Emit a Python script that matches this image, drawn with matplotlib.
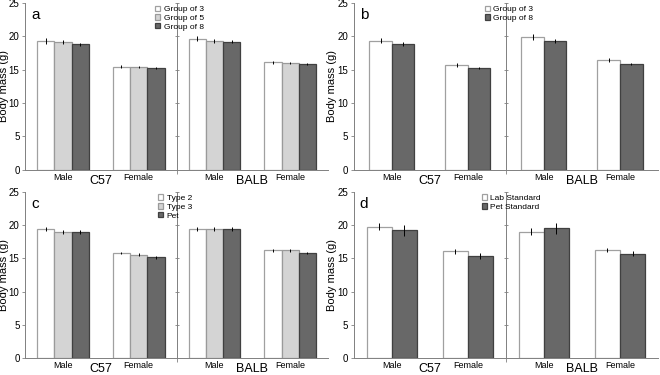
"""
Body mass of C57 and BALB mice by sex, four panels (a-d).
Saves out.png
"""

import matplotlib.pyplot as plt
import numpy as np

plt.rcParams["font.family"] = ["Liberation Sans", "DejaVu Sans"]

categories = ["Male", "Female", "Male", "Female"]
strains = ["C57", "BALB"]
yticks = [0, 5, 10, 15, 20, 25]

# panel a: group size
a_labels = ["Group of 3", "Group of 5", "Group of 8"]
a_means = [
    [19.25, 15.45, 19.65, 16.1],
    [19.1, 15.45, 19.3, 16.05],
    [18.8, 15.3, 19.2, 15.85],
]
a_err = [
    [0.45, 0.2, 0.4, 0.2],
    [0.3, 0.15, 0.3, 0.15],
    [0.25, 0.15, 0.25, 0.15],
]

# panel b: group of 3 vs 8
b_labels = ["Group of 3", "Group of 8"]
b_means = [
    [19.35, 15.65, 19.95, 16.5],
    [18.9, 15.3, 19.3, 15.9],
]
b_err = [
    [0.4, 0.3, 0.45, 0.3],
    [0.3, 0.15, 0.3, 0.15],
]

# panel c: cage type
c_labels = ["Type 2", "Type 3", "Pet"]
c_means = [
    [19.4, 15.8, 19.5, 16.2],
    [18.95, 15.55, 19.4, 16.2],
    [18.95, 15.15, 19.45, 15.85],
]
c_err = [
    [0.3, 0.2, 0.3, 0.2],
    [0.3, 0.2, 0.3, 0.2],
    [0.3, 0.2, 0.35, 0.15],
]

# panel d: standard
d_labels = ["Lab Standard", "Pet Standard"]
d_means = [
    [19.8, 16.05, 19.05, 16.2],
    [19.25, 15.35, 19.55, 15.7],
]
d_err = [
    [0.5, 0.35, 0.5, 0.3],
    [0.85, 0.45, 0.8, 0.4],
]

FILL3 = ["white", "#d4d4d4", "#686868"]
EDGE3 = ["#a0a0a0", "#9a9a9a", "#404040"]
FILL2 = ["white", "#686868"]
EDGE2 = ["#a0a0a0", "#404040"]


def draw_panel(ax, letter, labels, means, errs, fills, edges, width, leg_x):
    x = np.arange(len(categories))
    n = len(means)
    for i in range(n):
        off = (i - (n - 1) / 2) * width
        ax.bar(x + off, means[i], width, color=fills[i], edgecolor=edges[i],
               linewidth=0.9, label=labels[i], zorder=2)
        ax.errorbar(x + off, means[i], yerr=errs[i], fmt="none",
                    ecolor="black", elinewidth=0.7, capsize=0, zorder=3)

    ax.set_xlim(-0.5, 3.5)
    ax.set_ylim(0, 25)
    ax.set_yticks(yticks)
    ax.tick_params(axis="y", labelsize=7, length=2, width=0.6, color="#808080", pad=2)
    ax.set_xticks(x)
    ax.set_xticklabels(categories, fontsize=6.5)
    ax.tick_params(axis="x", length=0, pad=2)
    ax.set_xticks([1.5], minor=True)
    ax.tick_params(axis="x", which="minor", length=3, width=0.6, color="#808080")
    ax.set_ylabel("Body mass (g)", fontsize=8, labelpad=0)

    for s in ["top", "right"]:
        ax.spines[s].set_visible(False)
    for s in ["left", "bottom"]:
        ax.spines[s].set_color("#808080")
        ax.spines[s].set_linewidth(0.7)

    # divider between strains, with its own little ticks
    ax.axvline(1.5, color="#808080", linewidth=0.7, zorder=1)
    ax.plot([1.5] * len(yticks[1:]), yticks[1:], linestyle="none", marker="_",
            markersize=3, color="#808080", markeredgewidth=0.6, zorder=1)

    for k, name in enumerate(strains):
        ax.text(0.5 + 2 * k, -0.068, name, transform=ax.get_xaxis_transform(),
                ha="center", va="center", fontsize=9)

    ax.text(0.02, 0.97, letter, transform=ax.transAxes, ha="left", va="top",
            fontsize=11)

    ax.legend(loc="upper left", bbox_to_anchor=(leg_x, 0.985), frameon=False,
              fontsize=6, handlelength=0.6, handleheight=0.6, handletextpad=0.4,
              labelspacing=0.15, borderpad=0, borderaxespad=0)


def main():
    fig = plt.figure(figsize=(6.6, 3.75), dpi=100)
    ax_a = fig.add_axes([0.038, 0.547, 0.459, 0.445])
    ax_b = fig.add_axes([0.536, 0.547, 0.461, 0.445])
    ax_c = fig.add_axes([0.038, 0.045, 0.459, 0.443])
    ax_d = fig.add_axes([0.536, 0.045, 0.461, 0.443])

    draw_panel(ax_a, "a", a_labels, a_means, a_err, FILL3, EDGE3, 0.228, 0.43)
    draw_panel(ax_b, "b", b_labels, b_means, b_err, FILL2, EDGE2, 0.296, 0.43)
    draw_panel(ax_c, "c", c_labels, c_means, c_err, FILL3, EDGE3, 0.228, 0.44)
    draw_panel(ax_d, "d", d_labels, d_means, d_err, FILL2, EDGE2, 0.33, 0.42)

    fig.savefig("out.png", dpi=100)


if __name__ == "__main__":
    main()
